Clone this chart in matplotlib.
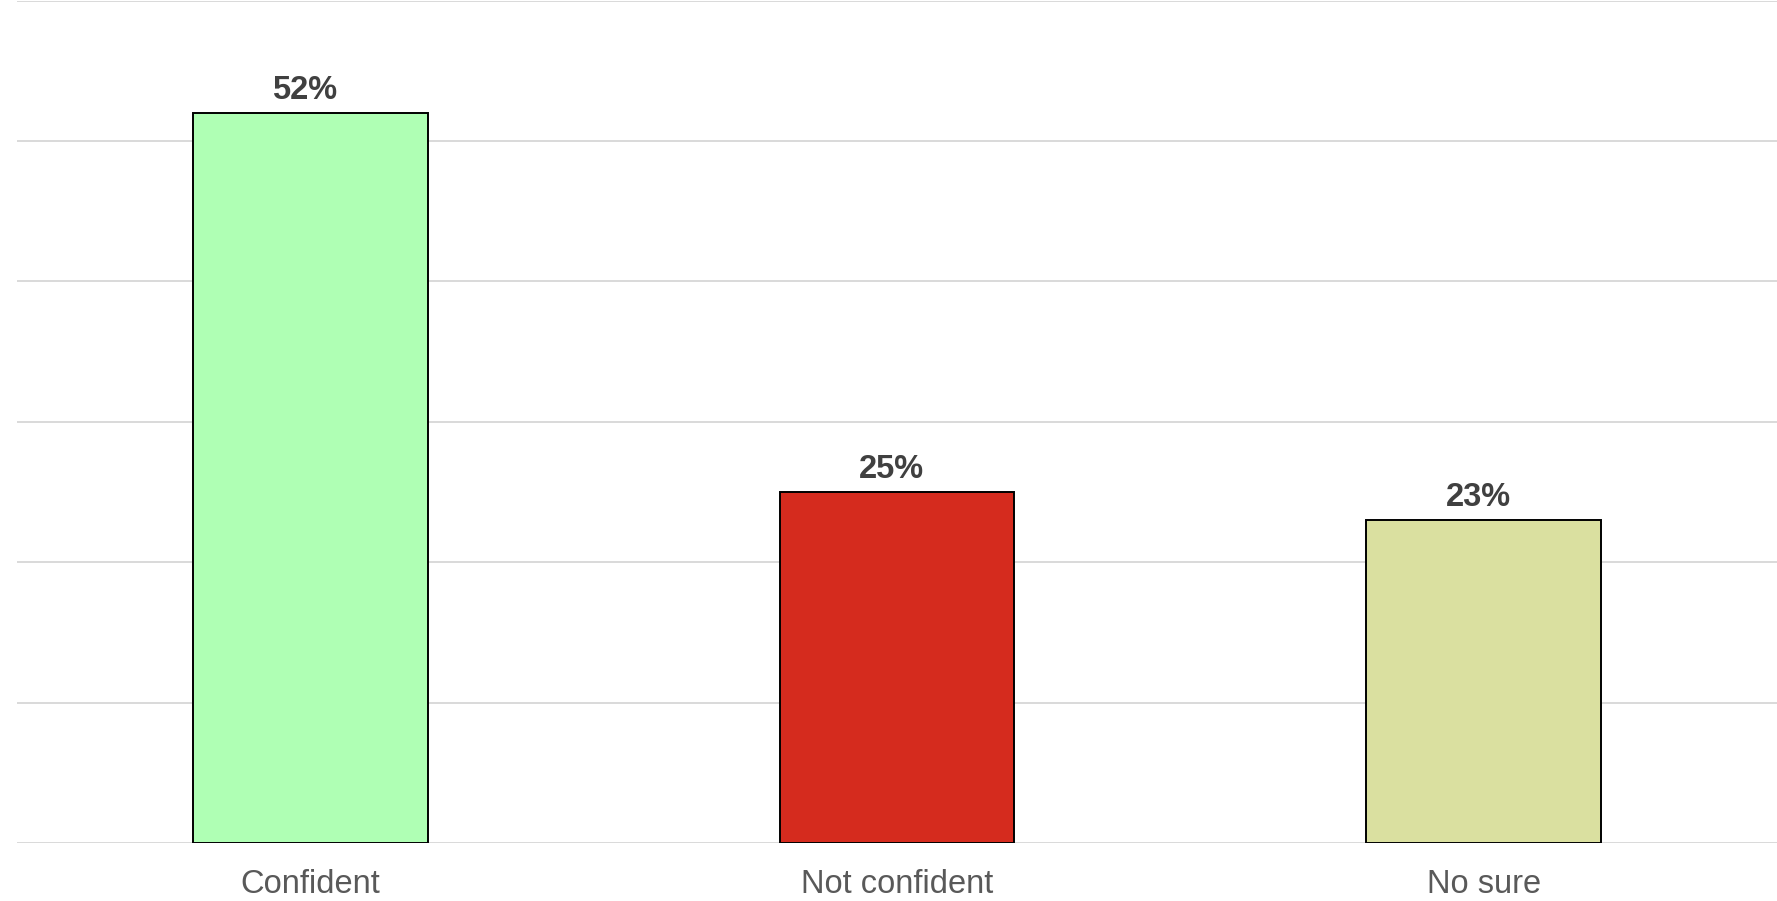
import matplotlib.pyplot as plt
import numpy as np

categories = ["Confident", "Not confident", "No sure"]
values = [52, 25, 23]
colors = ["#AFFFB4", "#D52B1E", "#DAE0A0"]

plt.rcParams["font.family"] = ["Liberation Sans", "DejaVu Sans"]

W, H = 1777, 901
fig = plt.figure(figsize=(W / 100, H / 100), dpi=100)
ax = fig.add_axes([17 / W, (H - 843.3) / H, (W - 17) / W, 842.8 / H])

x = np.arange(len(categories))
bars = ax.bar(x, values, width=0.4, color=colors, edgecolor="black",
              linewidth=1.4, zorder=3)

for b, v in zip(bars, values):
    ax.annotate(f"{v}%", (b.get_x() + b.get_width() / 2, v),
                xytext=(-4, 5), textcoords="offset points",
                ha="center", va="bottom", fontsize=23.5, fontweight="bold",
                color="#404040")

ax.set_xlim(-0.5, len(categories) - 0.5)
ax.set_ylim(0, 60)
ax.set_yticks(np.arange(0, 61, 10))
ax.yaxis.grid(True, color="#d9d9d9", linewidth=1.4, zorder=0)
ax.set_axisbelow(True)
ax.tick_params(axis="y", left=False, labelleft=False)
ax.tick_params(axis="x", bottom=False, pad=15)
ax.set_xticks(x)
ax.set_xticklabels(categories, fontsize=23.5, color="#595959")
for s in ax.spines.values():
    s.set_visible(False)

fig.savefig("out.png", dpi=100)
